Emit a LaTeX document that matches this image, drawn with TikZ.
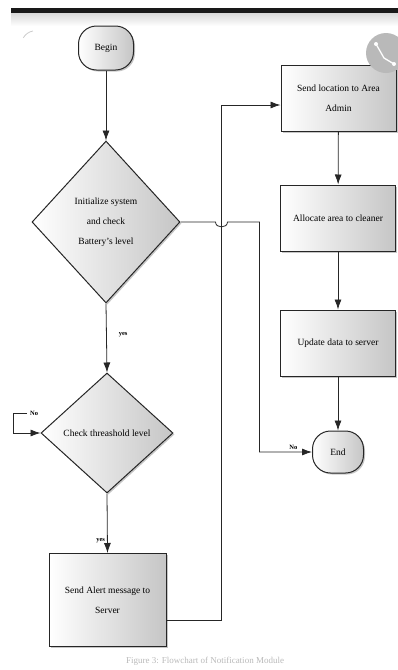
\documentclass[tikz,border=0pt]{standalone}
\usepackage{fontspec}
\setmainfont{Liberation Serif}
\usetikzlibrary{positioning,arrows.meta,calc,shapes.geometric,shadows}

\tikzset{
  fc/.style={draw=black!85,line width=1pt,left color=white,middle color=white,
    right color=gray!45,
    drop shadow={shadow xshift=1.5pt,shadow yshift=-1.5pt,opacity=0.45}},
  procbox/.style={fc,rectangle,minimum width=115pt,minimum height=66pt,
    align=center,font=\fontsize{9.5}{20}\selectfont},
  termbox/.style={fc,rectangle,rounded corners=18pt,minimum width=55pt,
    minimum height=44pt,font=\fontsize{9.5}{12}\selectfont},
  decision/.style={fc,diamond,inner sep=0pt,align=center,
    font=\fontsize{9.5}{20}\selectfont},
  flow/.style={draw=black!85,line width=0.8pt,-{Latex[length=10pt,width=7pt]}},
  lbl/.style={font=\fontsize{6.5}{8}\selectfont\bfseries,inner sep=1pt}
}

\begin{document}
\begin{tikzpicture}[x=1pt,y=-1pt]
  \useasboundingbox (0,0) rectangle (398,670);
  % screenshot frame
  \shade[top color=gray!30,bottom color=white] (11,13) rectangle (398,26);
  \fill[black!90] (11,8) rectangle (398,13);
  \draw[gray!40,line width=0.8pt] (33,31) arc[start angle=100,end angle=150,radius=14pt];

  % left column
  \node[termbox] (begin) at (106,48) {Begin};
  \node[decision,minimum width=148pt,minimum height=162pt] (init) at (106,222)
    {Initialize system\\and check\\Battery's level};
  \node[decision,minimum width=132pt,minimum height=120pt] (check) at (107,433)
    {Check threashold level};
  \node[procbox,minimum width=117pt,minimum height=93pt] (alert) at (107.5,600)
    {Send Alert message to\\Server};

  % right column
  \node[procbox] (location) at (338.5,98) {Send location to Area\\Admin};
  \node[procbox] (allocate) at (338,218) {Allocate area to cleaner};
  \node[procbox] (update) at (338,343) {Update data to server};
  \node[termbox,minimum width=51pt,minimum height=42pt] (end) at (338,452) {End};

  % connectors
  \draw[flow] (begin) -- (init);
  \draw[flow] (init.south) -- node[lbl,right=11pt,pos=0.45] (yes1) {yes} (check.north);
  \draw[flow] (check.south) -- node[lbl,left=1pt,pos=0.8] (yes2) {yes} (alert.north);
  \coordinate (loop) at (27,413);
  \draw[flow] (loop) -| ([xshift=-27pt]check.west) -- (check.west);
  \node[lbl,right=2pt] (no1) at (loop) {No};
  \coordinate (jump) at (221,620);
  \draw[flow] ([yshift=-20pt]alert.east) -- (jump) |- ([yshift=-7pt]location.west);
  \draw[flow] (init.east) -- ++(35,0) to[out=-90,in=-90,looseness=1.4] ++(12,0)
    -- ++(32,0) |- node[lbl,above left=1pt and 6pt,pos=0.93] (no2) {No} (end.west);
  \draw[flow] (location) -- (allocate);
  \draw[flow] (allocate) -- (update);
  \draw[flow] (update) -- (end);

  % share icon
  \fill[gray!55] (386,53) circle (20pt);
  \draw[white,line width=1.3pt] (376,44) -- (384,58) -- (394,64);
  \fill[white] (376,44) circle (2pt) (394,64) circle (2pt);

  % caption
  \node[text=gray!55,font=\fontsize{9}{11}\selectfont] (caption) at (205,661)
    {Figure 3: Flowchart of Notification Module};
\end{tikzpicture}
\end{document}
